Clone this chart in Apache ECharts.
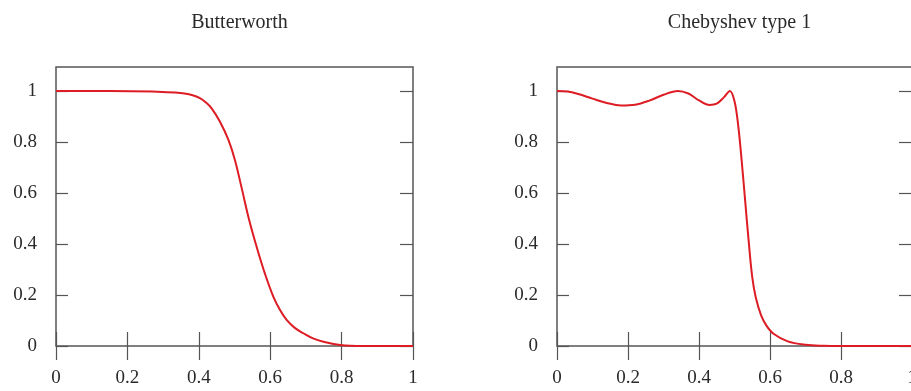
<!DOCTYPE html>
<html>
<head>
<meta charset="utf-8">
<script src="https://cdn.jsdelivr.net/npm/echarts@6/dist/echarts.min.js"></script>
<style>
html,body{margin:0;padding:0;background:#fff;}
#c{width:911px;height:391px;}
</style>
</head>
<body>
<div id="c"></div>
<script>
// ---- data ----
const titles = ['Butterworth', 'Chebyshev type 1'];
const xTicks = [0, 0.2, 0.4, 0.6, 0.8, 1];
const yTicks = [0, 0.2, 0.4, 0.6, 0.8, 1];

const butterX = [0, 0.15, 0.27, 0.33, 0.36, 0.385, 0.403, 0.42, 0.436, 0.459, 0.483, 0.501, 0.52, 0.54, 0.562, 0.585, 0.609, 0.628, 0.646, 0.668, 0.693, 0.72, 0.749, 0.796, 0.86, 1];
const butterY = [1, 1, 0.998, 0.994, 0.99, 0.982, 0.972, 0.955, 0.932, 0.88, 0.808, 0.73, 0.62, 0.5, 0.389, 0.285, 0.193, 0.14, 0.102, 0.072, 0.05, 0.03, 0.017, 0.004, 0, 0];

const chebyX = [0, 0.03, 0.06, 0.1, 0.14, 0.18, 0.22, 0.26, 0.3, 0.34, 0.37, 0.4, 0.43, 0.45, 0.47, 0.487, 0.5, 0.51, 0.52, 0.53, 0.54, 0.55, 0.56, 0.575, 0.59, 0.61, 0.65, 0.7, 0.75, 0.8, 0.9, 1];
const chebyY = [1.0, 0.998, 0.988, 0.97, 0.953, 0.943, 0.946, 0.962, 0.985, 1.0, 0.99, 0.963, 0.945, 0.95, 0.975, 1.0, 0.96, 0.87, 0.73, 0.57, 0.41, 0.27, 0.19, 0.12, 0.08, 0.048, 0.018, 0.005, 0.001, 0, 0, 0];

const yMax = 1.094;
// -------------------------------------

const pairs = (xs, ys) => xs.map((x, i) => [x, ys[i]]);
const FONT = 'Liberation Serif';
const TXT = '#2a2a2a';
const FRAME = '#555';
const RED = '#dd1c24';

const grids = [
  {left: 56, top: 67, width: 357, height: 279},
  {left: 557, top: 67, width: 355, height: 279}
];

const option = {
  animation: false,
  backgroundColor: '#fff',
  title: titles.map((t, i) => ({
    text: t,
    left: grids[i].left + grids[i].width / 2,
    textAlign: 'center',
    top: 8,
    textStyle: {fontFamily: FONT, fontSize: 20, fontWeight: 'normal', color: TXT}
  })),
  grid: grids.map(g => Object.assign({show: true, borderColor: FRAME, borderWidth: 1.5, backgroundColor: 'transparent', containLabel: false, outerBoundsMode: 'none'}, g)),
  xAxis: [0, 1].map(i => ({
    type: 'value', gridIndex: i, min: 0, max: 1, interval: 0.2,
    position: 'bottom', offset: -14,
    axisLine: {show: false},
    splitLine: {show: false},
    axisTick: {show: true, inside: false, length: 28, lineStyle: {color: FRAME, width: 1.2}, customValues: xTicks},
    axisLabel: {fontFamily: FONT, fontSize: 19, color: TXT, margin: 37, customValues: xTicks}
  })),
  yAxis: [
    ...[0, 1].map(i => ({
      type: 'value', gridIndex: i, min: 0, max: yMax, position: 'left',
      axisLine: {show: false},
      splitLine: {show: false},
      axisTick: {show: true, inside: true, length: 12, lineStyle: {color: FRAME, width: 1.2}, customValues: yTicks},
      axisLabel: {fontFamily: FONT, fontSize: 19, color: TXT, margin: 19, customValues: yTicks}
    })),
    ...[0, 1].map(i => ({
      type: 'value', gridIndex: i, min: 0, max: yMax, position: 'right',
      axisLine: {show: false},
      splitLine: {show: false},
      axisTick: {show: true, inside: true, length: 13, lineStyle: {color: FRAME, width: 1.2}, customValues: yTicks},
      axisLabel: {show: false}
    }))
  ],
  series: [
    {type: 'line', xAxisIndex: 0, yAxisIndex: 0, data: pairs(butterX, butterY), smooth: 0.4, showSymbol: false,
     lineStyle: {color: RED, width: 2}},
    {type: 'line', xAxisIndex: 1, yAxisIndex: 1, data: pairs(chebyX, chebyY), smooth: 0.35, showSymbol: false,
     lineStyle: {color: RED, width: 2}}
  ]
};

echarts.init(document.getElementById('c'), null, {renderer: 'canvas'}).setOption(option);
</script>
</body>
</html>
